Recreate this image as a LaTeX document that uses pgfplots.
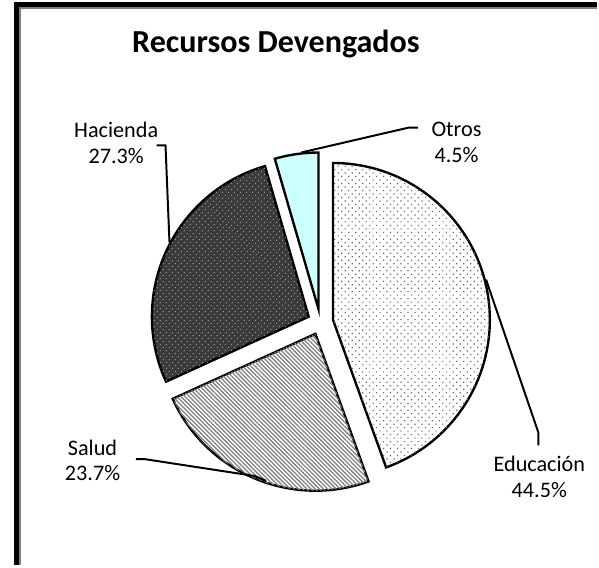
\documentclass[border=0pt]{standalone}
\usepackage{pgfplots}
\pgfplotsset{compat=1.18}
\usepackage{pgfplotstable}
\usepackage{fontspec}
\setmainfont{Carlito}
\usetikzlibrary{calc,patterns.meta}

% shares of the pie, clockwise from 12 o'clock
\pgfplotstableread{
name value
Educacion 44.5
Salud 23.7
Hacienda 27.3
Otros 4.5
}\piedata

\definecolor{otros}{HTML}{CCFFFF}
\definecolor{hacienda}{HTML}{3A3A3A}

% one exploded wedge: #1 style, #2 start angle, #3 end angle
\newcommand\pieslice[3]{%
  \filldraw[line width=2.4pt,#1]
    ($(axis cs:319,333)+({(#2+#3)/2}:13pt)$) -- ++(#2:159pt)
    arc[start angle=#2,end angle=#3,radius=159pt] -- cycle;}

\begin{document}
\pgfplotstablegetelem{0}{value}\of\piedata\let\vA\pgfplotsretval
\pgfplotstablegetelem{1}{value}\of\piedata\let\vB\pgfplotsretval
\pgfplotstablegetelem{2}{value}\of\piedata\let\vC\pgfplotsretval
\pgfplotstablegetelem{3}{value}\of\piedata\let\vD\pgfplotsretval
\pgfmathsetmacro\aA{90}
\pgfmathsetmacro\aB{\aA-3.6*\vA}
\pgfmathsetmacro\aC{\aB-3.6*\vB}
\pgfmathsetmacro\aD{\aC-3.6*\vC}
\pgfmathsetmacro\aE{\aD-3.6*\vD}
\begin{tikzpicture}
\begin{axis}[
    x=1pt, y=1pt,
    xmin=0, xmax=599,
    ymin=0, ymax=579,
    y dir=reverse,
    hide axis,
    clip=false,
    anchor=south west, at={(0,0)},
]
% frame (only top and left edges show)
\draw[black, line width=5pt] (axis cs:8,11.5) -- (axis cs:599,11.5);
\draw[black, line width=5pt] (axis cs:10.5,9) -- (axis cs:10.5,579);
\draw[gray, line width=2pt] (axis cs:13,15) -- (axis cs:599,15);
\draw[gray, line width=2pt] (axis cs:14,14) -- (axis cs:14,579);

\node[anchor=base, font=\fontsize{32.5}{38}\selectfont\bfseries]
  at (axis cs:274,60) {Recursos Devengados};

% wedges
\pieslice{fill=white, postaction={pattern={Dots[distance=5pt,radius=0.85pt,angle=45]}, pattern color=black!60}}{\aA}{\aB}
\pieslice{fill=white, postaction={pattern={Lines[angle=-45,distance=3pt,line width=1.3pt]}, pattern color=gray}}{\aB}{\aC}
\pieslice{fill=hacienda, postaction={pattern={Dots[distance=4pt,radius=0.6pt,angle=45]}, pattern color=gray!45}}{\aC}{\aD}
\pieslice{fill=otros}{\aD}{\aE}

% leader lines
\addplot[black, line width=2pt, no marks] coordinates {(487,290) (540,445) (540,458)};
\addplot[black, line width=2pt, no marks] coordinates {(132,472) (141,472) (252,489) (264,494)};
\addplot[black, line width=2pt, no marks] coordinates {(153,154) (162,154) (166,252)};
\addplot[black, line width=2pt, no marks] coordinates {(418,136) (408,136) (300,161)};

% labels
\begin{scope}[every node/.style={anchor=base, font=\fontsize{22.5}{27}\selectfont}]
\node at (axis cs:541,485) {Educación};
\node at (axis cs:541,511) {44.5\%};
\node at (axis cs:88,468) {Salud};
\node at (axis cs:88,494) {23.7\%};
\node at (axis cs:112,146) {Hacienda};
\node at (axis cs:112,172) {27.3\%};
\node at (axis cs:457,145) {Otros};
\node at (axis cs:457,171) {4.5\%};
\end{scope}
\end{axis}
\end{tikzpicture}
\end{document}
